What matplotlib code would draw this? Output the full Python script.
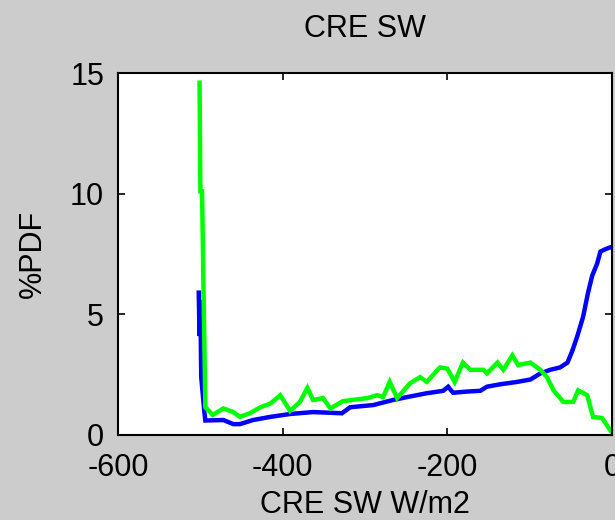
import matplotlib
matplotlib.use('Agg')
import matplotlib.pyplot as plt

# ── data ──────────────────────────────────────────────────────────────────────
blue_x = [-502, -501, -500, -499, -495, -494, -472, -460, -452, -436, -415, -391,
          -363, -328, -318, -290, -266, -249, -225, -205, -199, -193, -176, -160,
          -152, -136, -115, -99, -87, -75, -63, -54, -48, -42, -35, -29, -24,
          -18, -14, -8, 0]
blue_y = [5.9, 4.1, 5.6, 2.4, 0.9, 0.6, 0.62, 0.45, 0.45, 0.62, 0.75, 0.87,
          0.95, 0.9, 1.15, 1.24, 1.45, 1.57, 1.73, 1.83, 2.0, 1.75, 1.8, 1.83,
          2.0, 2.1, 2.2, 2.3, 2.55, 2.7, 2.8, 3.0, 3.5, 4.1, 4.9, 5.9, 6.6,
          7.1, 7.6, 7.7, 7.8]

green_x = [-501, -500, -498, -496, -494, -485, -472, -460, -452, -440, -427, -415,
           -403, -391, -379, -370, -363, -351, -342, -327, -297, -285, -278, -270,
           -261, -245, -233, -225, -209, -200, -191, -181, -172, -156, -152, -139,
           -132, -121, -114, -99, -87, -79, -71, -59, -47, -41, -30, -23, -12, 0]
green_y = [14.6, 10.1, 10.1, 5.6, 1.15, 0.83, 1.1, 0.95, 0.75, 0.9, 1.15, 1.3,
           1.65, 1.0, 1.37, 1.95, 1.45, 1.53, 1.1, 1.4, 1.53, 1.65, 1.57, 2.2,
           1.53, 2.15, 2.4, 2.2, 2.8, 2.75, 2.2, 3.0, 2.7, 2.7, 2.55, 3.0,
           2.7, 3.3, 2.9, 3.0, 2.7, 2.4, 1.85, 1.37, 1.37, 1.85, 1.65, 0.75, 0.7, 0.1]

x_ticks = [-600, -400, -200, 0]
y_ticks = [0, 5, 10, 15]

FONT = 22
BG = '#cccccc'

plt.rcParams['font.family'] = ['Liberation Sans', 'DejaVu Sans']
plt.rcParams['axes.unicode_minus'] = False

fig = plt.figure(figsize=(6.15, 5.2), dpi=100, facecolor=BG)
ax = fig.add_axes([0.192, 0.1635, 0.803, 0.696])
ax.set_facecolor('white')

ax.plot(blue_x, blue_y, color='#0000ff', lw=3.2, solid_joinstyle='miter')
ax.plot(green_x, green_y, color='#00ff00', lw=3.2, solid_joinstyle='miter')

ax.set_xlim(-600, 0)
ax.set_ylim(0, 15)
ax.set_xticks(x_ticks)
ax.set_yticks(y_ticks)
ax.tick_params(direction='in', top=True, right=True, length=5, width=1.2,
               labelsize=FONT)
ax.tick_params(axis='x', pad=13)
ax.tick_params(axis='y', pad=10)
for sp in ax.spines.values():
    sp.set_linewidth(1.5)

ax.set_title('CRE SW', fontsize=FONT, pad=26)
ax.set_xlabel('CRE SW W/m2', fontsize=FONT, labelpad=5)
ax.set_ylabel('%PDF', fontsize=FONT, labelpad=16)

fig.savefig('out.png', dpi=100, facecolor=BG)
